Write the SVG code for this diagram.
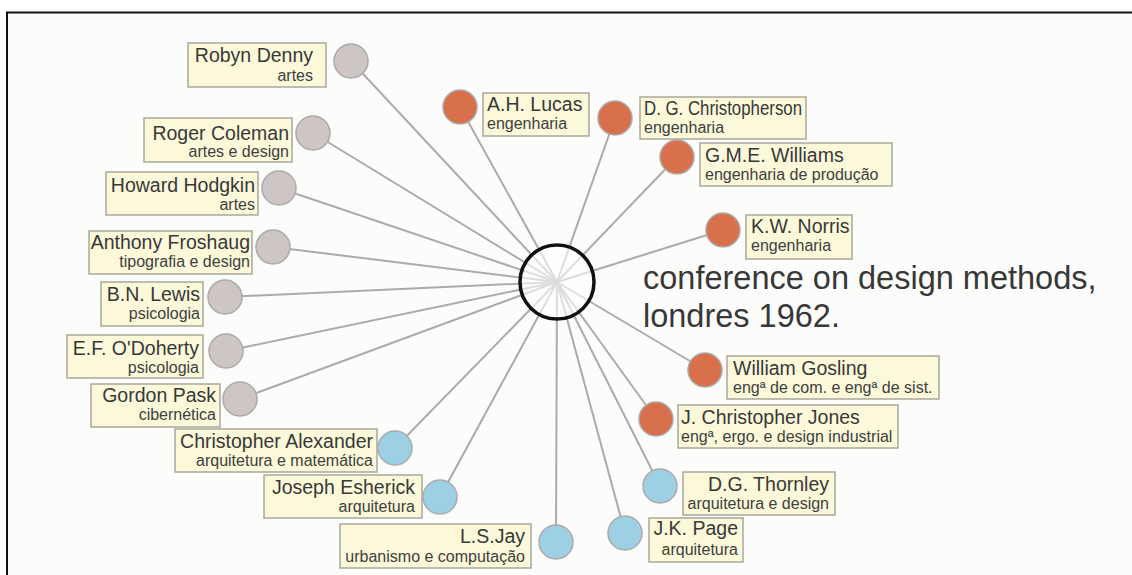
<svg xmlns="http://www.w3.org/2000/svg" width="1132" height="575" viewBox="0 0 1132 575">
<style>
.bg{fill:#fcfcfa}
.frame{stroke:#111;stroke-width:2;fill:none}
.ln{stroke:#ababab;stroke-width:2;fill:none}
.dot{stroke:#ababab;stroke-width:1.5}
.g{fill:#cdc6c4}
.o{fill:#d8704c}
.b{fill:#9dd0e4}
.box{fill:#fcf8da;stroke:#a9a79c;stroke-width:1.5}
.nm{font-family:"Liberation Sans",Arial,sans-serif;font-size:19.5px;fill:#383838}
.sb{font-family:"Liberation Sans",Arial,sans-serif;font-size:16px;fill:#404040}
.e{text-anchor:end}
.title{font-family:"Liberation Sans",Arial,sans-serif;font-size:32.5px;fill:#383838}
</style>
<rect x="0" y="0" width="1132" height="575" fill="#ffffff"/>
<rect class="bg" x="7" y="12" width="1125" height="563"/>
<path class="frame" d="M7,575 V12.5 H1132"/>

<g id="connectors">
<line class="ln" x1="557" y1="282" x2="351" y2="61"/>
<line class="ln" x1="557" y1="282" x2="313" y2="133"/>
<line class="ln" x1="557" y1="282" x2="279" y2="188"/>
<line class="ln" x1="557" y1="282" x2="273" y2="247"/>
<line class="ln" x1="557" y1="282" x2="225" y2="297"/>
<line class="ln" x1="557" y1="282" x2="226" y2="351"/>
<line class="ln" x1="557" y1="282" x2="240" y2="399"/>
<line class="ln" x1="557" y1="282" x2="395" y2="448"/>
<line class="ln" x1="557" y1="282" x2="440" y2="497"/>
<line class="ln" x1="557" y1="282" x2="556" y2="542"/>
<line class="ln" x1="557" y1="282" x2="625" y2="533"/>
<line class="ln" x1="557" y1="282" x2="660" y2="486"/>
<line class="ln" x1="557" y1="282" x2="656" y2="419"/>
<line class="ln" x1="557" y1="282" x2="705" y2="370"/>
<line class="ln" x1="557" y1="282" x2="723" y2="230"/>
<line class="ln" x1="557" y1="282" x2="677" y2="157"/>
<line class="ln" x1="557" y1="282" x2="615" y2="118"/>
<line class="ln" x1="557" y1="282" x2="460" y2="107"/>
</g>

<g id="center">
<circle cx="557" cy="282" r="37" fill="#ffffff" fill-opacity="0.6" stroke="#111" stroke-width="3.5"/>
<text class="title" x="643" y="289">conference on design methods,</text>
<text class="title" x="643" y="327">londres 1962.</text>
</g>

<g id="robyn-denny">
<rect class="box" x="188" y="43" width="138" height="44"/>
<text class="nm e" x="313" y="62">Robyn Denny</text>
<text class="sb e" x="313" y="81">artes</text>
<circle class="dot g" cx="351" cy="61" r="17"/>
</g>
<g id="roger-coleman">
<rect class="box" x="144" y="118" width="148" height="44"/>
<text class="nm e" x="289" y="140">Roger Coleman</text>
<text class="sb e" x="289" y="157">artes e design</text>
<circle class="dot g" cx="313" cy="133" r="17"/>
</g>
<g id="howard-hodgkin">
<rect class="box" x="106" y="172" width="152" height="43"/>
<text class="nm e" x="255" y="192">Howard Hodgkin</text>
<text class="sb e" x="255" y="210">artes</text>
<circle class="dot g" cx="279" cy="188" r="17"/>
</g>
<g id="anthony-froshaug">
<rect class="box" x="89" y="231" width="163" height="43"/>
<text class="nm e" x="250" y="249">Anthony Froshaug</text>
<text class="sb e" x="250" y="267">tipografia e design</text>
<circle class="dot g" cx="273" cy="247" r="17"/>
</g>
<g id="bn-lewis">
<rect class="box" x="101" y="282" width="102" height="44"/>
<text class="nm e" x="200" y="301">B.N. Lewis</text>
<text class="sb e" x="200" y="319">psicologia</text>
<circle class="dot g" cx="225" cy="297" r="17"/>
</g>
<g id="ef-odoherty">
<rect class="box" x="67" y="335" width="136" height="43"/>
<text class="nm e" x="199" y="355">E.F. O'Doherty</text>
<text class="sb e" x="199" y="373">psicologia</text>
<circle class="dot g" cx="226" cy="351" r="17"/>
</g>
<g id="gordon-pask">
<rect class="box" x="91" y="384" width="129" height="43"/>
<text class="nm e" x="216" y="402">Gordon Pask</text>
<text class="sb e" x="216" y="420">cibernética</text>
<circle class="dot g" cx="240" cy="399" r="17"/>
</g>

<g id="christopher-alexander">
<rect class="box" x="175" y="429" width="202" height="43"/>
<text class="nm e" x="373" y="448">Christopher Alexander</text>
<text class="sb e" x="373" y="466">arquitetura e matemática</text>
<circle class="dot b" cx="395" cy="448" r="17"/>
</g>
<g id="joseph-esherick">
<rect class="box" x="264" y="475" width="158" height="43"/>
<text class="nm e" x="415" y="494">Joseph Esherick</text>
<text class="sb e" x="415" y="512">arquitetura</text>
<circle class="dot b" cx="440" cy="497" r="17"/>
</g>
<g id="ls-jay">
<rect class="box" x="340" y="524" width="191" height="44"/>
<text class="nm e" x="525" y="543">L.S.Jay</text>
<text class="sb e" x="525" y="562">urbanismo e computação</text>
<circle class="dot b" cx="556" cy="542" r="17"/>
</g>
<g id="jk-page">
<rect class="box" x="649" y="518" width="94" height="44"/>
<text class="nm e" x="738" y="535">J.K. Page</text>
<text class="sb e" x="738" y="555">arquitetura</text>
<circle class="dot b" cx="625" cy="533" r="17"/>
</g>
<g id="dg-thornley">
<rect class="box" x="683" y="472" width="152" height="43"/>
<text class="nm e" x="829" y="491">D.G. Thornley</text>
<text class="sb e" x="829" y="509">arquitetura e design</text>
<circle class="dot b" cx="660" cy="486" r="17"/>
</g>

<g id="j-christopher-jones">
<rect class="box" x="678" y="405" width="220" height="43"/>
<text class="nm" x="681" y="424">J. Christopher Jones</text>
<text class="sb" x="681" y="442">engª, ergo. e design industrial</text>
<circle class="dot o" cx="656" cy="419" r="17"/>
</g>
<g id="william-gosling">
<rect class="box" x="727" y="356" width="212" height="43"/>
<text class="nm" x="733" y="375">William Gosling</text>
<text class="sb" x="733" y="393">engª de com. e engª de sist.</text>
<circle class="dot o" cx="705" cy="370" r="17"/>
</g>
<g id="kw-norris">
<rect class="box" x="746" y="215" width="106" height="44"/>
<text class="nm" x="751" y="233">K.W. Norris</text>
<text class="sb" x="751" y="251">engenharia</text>
<circle class="dot o" cx="723" cy="230" r="17"/>
</g>
<g id="gme-williams">
<rect class="box" x="700" y="143" width="192" height="43"/>
<text class="nm" x="705" y="162">G.M.E. Williams</text>
<text class="sb" x="705" y="180">engenharia de produção</text>
<circle class="dot o" cx="677" cy="157" r="17"/>
</g>
<g id="dg-christopherson">
<rect class="box" x="640" y="97" width="166" height="42"/>
<text class="nm" x="644" y="115" textLength="158" lengthAdjust="spacingAndGlyphs">D. G. Christopherson</text>
<text class="sb" x="644" y="133">engenharia</text>
<circle class="dot o" cx="615" cy="118" r="17"/>
</g>
<g id="ah-lucas">
<rect class="box" x="483" y="93" width="106" height="43"/>
<text class="nm" x="487" y="111">A.H. Lucas</text>
<text class="sb" x="487" y="129">engenharia</text>
<circle class="dot o" cx="460" cy="107" r="17"/>
</g>
</svg>
